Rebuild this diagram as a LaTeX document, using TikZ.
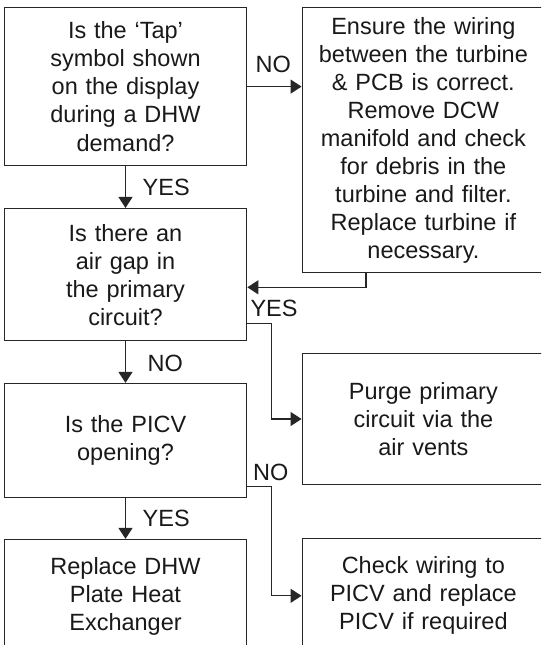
\documentclass[tikz,border=0pt]{standalone}
\usepackage{fontspec}
\setmainfont{Liberation Sans}
\usepackage{xcolor}
\usepackage{tikz}
\usetikzlibrary{arrows.meta,positioning}

\begin{document}
\begin{tikzpicture}[
    x=1pt, y=1pt,
    box/.style={rectangle, draw=black!85, line width=1.3pt, text=black!90, align=center, text width=236pt, inner sep=2pt, minimum width=242.4pt, font=\fontsize{23.5}{28}\selectfont},
    flow/.style={draw=black!85, line width=1.3pt, -{Triangle[length=11pt,width=14pt]}},
    lbl/.style={inner sep=0pt, anchor=base west, text=black!90, font=\fontsize{23.5}{28}\selectfont}]
    \useasboundingbox (0,0) rectangle (541,-645);
    \clip (0,0) rectangle (541,-645);
    \node[box, minimum height=158.2pt] (tapq) at (125.5,-86.6) {Is the `Tap'\\symbol shown\\on the display\\during a DHW\\demand?};
    \node[box, minimum height=265pt, right=54.2pt of tapq.north east, anchor=north west] (wiring) {Ensure the wiring\\between the turbine\\\& PCB is correct.\\Remove DCW\\manifold and check\\for debris in the\\turbine and filter.\\Replace turbine if\\necessary.};
    \node[box, minimum height=132pt, below=41.6pt of tapq] (airq) {Is there an\\air gap in\\the primary\\circuit?};
    \node[box, minimum height=131.6pt, below=79.4pt of wiring] (purge) {Purge primary\\circuit via the\\air vents};
    \node[box, minimum height=114pt, below=41.6pt of airq] (picvq) {Is the PICV\\opening?};
    \node[box, minimum height=114.6pt, below=40.7pt of picvq] (phe) {Replace DHW\\Plate Heat\\Exchanger};
    \node[box, minimum height=114pt, below=52.7pt of purge] (picvfix) {Check wiring to\\PICV and replace\\PICV if required};
    \draw[flow] (tapq.east) -- (tapq.east -| wiring.west);
    \draw[flow] (tapq) -- (airq);
    \draw[flow] ([xshift=64.3pt]wiring.south west) |- ([yshift=-12.7pt]airq.east);
    \draw[flow] ([yshift=-49pt]airq.east) -- ++(24pt,0) |- (purge.west);
    \draw[flow] (airq) -- (picvq);
    \draw[flow] ([yshift=-46.3pt]picvq.east) -- ++(24pt,0) |- (picvfix.west);
    \draw[flow] (picvq) -- (phe);
    \node[lbl] (no1) at ([xshift=8pt,yshift=14pt]tapq.east) {NO};
    \node[lbl] (yes1) at ([xshift=17pt,yshift=-29.3pt]tapq.south) {YES};
    \node[lbl] (yes2) at ([xshift=3pt,yshift=-41.4pt]airq.east) {YES};
    \node[lbl] (no2) at ([xshift=22pt,yshift=-30.4pt]airq.south) {NO};
    \node[lbl] (no3) at ([xshift=5.5pt,yshift=-40pt]picvq.east) {NO};
    \node[lbl] (yes3) at ([xshift=17pt,yshift=-28pt]picvq.south) {YES};
\end{tikzpicture}
\end{document}
